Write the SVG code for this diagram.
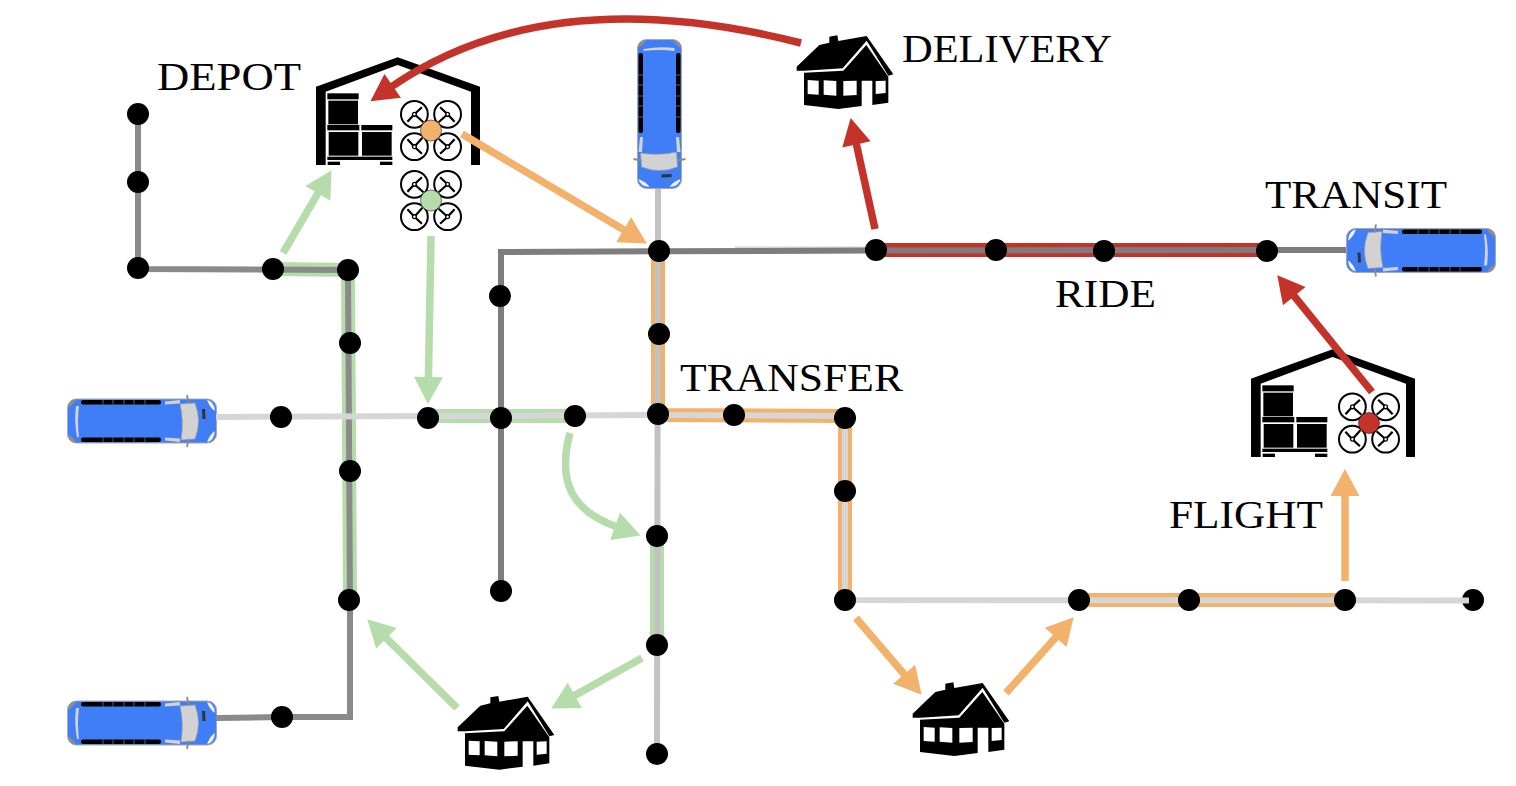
<svg xmlns="http://www.w3.org/2000/svg" xmlns:xlink="http://www.w3.org/1999/xlink" width="1516" height="786" viewBox="0 0 1516 786">
<style>
.lbl{font-family:"Liberation Serif","Times New Roman",serif;font-size:41px;fill:#000}
.dot{fill:#000}
.ln{fill:none;stroke-linejoin:miter}
.dk{stroke:#8a8a8a;stroke-width:6}
.dk2{stroke:#7d7d7d;stroke-width:6}
.lt{stroke:#d6d6d6;stroke-width:6}
.md{stroke:#c2c2c2;stroke-width:6}
.g{stroke:#b6dcab;stroke-width:14}
.o{stroke:#f2b26c;stroke-width:14}
.r{stroke:#c4332a;stroke-width:14}
.ag{fill:none;stroke:#b6dcab;stroke-width:7.5;marker-end:url(#hg)}
.ao{fill:none;stroke:#f2b26c;stroke-width:7.5;marker-end:url(#ho)}
.ar{fill:none;stroke:#c4332a;stroke-width:7.5;marker-end:url(#hr)}
.rt{fill:#fff;stroke:#000;stroke-width:2}
.bl{stroke:#000;stroke-width:2.2;fill:none}
.wn{fill:#000}
.sep{stroke:#777;stroke-width:.8}
.lg{fill:#d2d2d2}
</style>
<defs>
<marker id="hg" markerUnits="userSpaceOnUse" markerWidth="32" markerHeight="32" refX="2" refY="0" orient="auto" overflow="visible" viewBox="0 -16 32 32"><polygon points="0,-14.5 27,0 0,14.5" fill="#b6dcab"/></marker>
<marker id="ho" markerUnits="userSpaceOnUse" markerWidth="32" markerHeight="32" refX="2" refY="0" orient="auto" overflow="visible" viewBox="0 -16 32 32"><polygon points="0,-14.5 27,0 0,14.5" fill="#f2b26c"/></marker>
<marker id="hr" markerUnits="userSpaceOnUse" markerWidth="32" markerHeight="32" refX="2" refY="0" orient="auto" overflow="visible" viewBox="0 -16 32 32"><polygon points="0,-14.5 27,0 0,14.5" fill="#c4332a"/></marker>
<g id="van">
<rect x="-74.5" y="-22" width="149" height="44" rx="9" fill="#3f7ef6" stroke="#a8a8a8" stroke-width="1"/>
<path d="M-74,-13 Q-74,-21 -66,-22 L-68,-18 Z M-74,13 Q-74,21 -66,22 L-68,18 Z" fill="#8d8d8d"/>
<path d="M-66,-15 Q-68,0 -65,16 L-63,16 Q-65,0 -63,-15 Z" class="lg"/>
<rect x="-61" y="-21" width="80" height="4.5" rx="2" class="wn"/>
<rect x="-61" y="16.5" width="80" height="4.5" rx="2" class="wn"/>
<path class="sep" d="M-39,-21V-16.5M-29,-21V-16.5M-18,-21V-16.5M-8,-21V-16.5M3,-21V-16.5M-39,16.5V21M-29,16.5V21M-18,16.5V21M-8,16.5V21M3,16.5V21"/>
<path d="M38,-17 L53,-18 Q60,0 53,18 L39,19 Q42,0 38,-17 Z" fill="#d2d2d2" stroke="#9c9c9c" stroke-width=".7"/>
<path d="M23,-19.5 L38,-21 L38,-17.5 L23,-16.5 Z M23,19.5 L38,21 L38,17.5 L23,16.5 Z" class="lg"/>
<path d="M45,-26 L46.5,-18 M45,26 L46.5,18" stroke="#8a8a8a" stroke-width="1.8" fill="none"/>
<path d="M60,-12 L63,-12 L63.5,-2 L60.5,-2 Z" fill="#333"/>
<path d="M65,-21 Q72,-20 73,-10 Q68,-13 65,-21 Z M65,21 Q72,20 73,10 Q68,13 65,21 Z" fill="#f0f0f0"/>
</g>
<g id="house" transform="scale(.33333)">
<path d="M530,110 L598,45 L628,38 L628,20 L652,16 L655,33 L740,18 L820,133 L805,137 L740,32 L668,115 L553,122 L530,122 Z" fill="#000"/>
<path d="M552,128 L670,122 L739,45 L805,140 L805,218 L757,225 L757,152 L725,152 L725,228 L655,237 L552,225 Z" fill="#000"/>
<path d="M563,150 L596,152 L596,194 L563,192 Z M611,151 L649,153 L649,197 L611,194 Z M670,153 L710,152 L710,195 L670,197 Z M767,153 L797,152 L797,189 L767,192 Z" fill="#fff"/>
</g>
<g id="depot" transform="scale(.33333)">
<path d="M48,375 L48,140 L293,52 L540,140 L540,375 L513,375 L513,155 L293,75 L77,155 L77,375 Z" fill="#000"/>
<rect x="82" y="160" width="94" height="18" fill="#000"/>
<rect x="85" y="182" width="89" height="71" fill="#000"/>
<rect x="82" y="255" width="96" height="16" fill="#000"/>
<rect x="184" y="255" width="93" height="16" fill="#000"/>
<rect x="86" y="276" width="89" height="71" fill="#000"/>
<rect x="186" y="276" width="89" height="71" fill="#000"/>
<rect x="82" y="350" width="195" height="10" fill="#000"/>
<rect x="83" y="365" width="37" height="10" fill="#000"/>
<rect x="240" y="365" width="37" height="10" fill="#000"/>
</g>
<g id="rotor">
<circle r="13.4" class="rt"/>
<path class="bl" d="M0,0 L7.5,-7 M0,0 L-7,7.5 M0,0 L9,8"/>
<circle r="1.9" fill="#fff" stroke="#000" stroke-width="1.4"/>
</g>
<g id="drone">
<use xlink:href="#rotor" href="#rotor" transform="translate(-16.6,-16.2)"/>
<use xlink:href="#rotor" href="#rotor" transform="translate(16.6,-16.2) scale(-1,1)"/>
<use xlink:href="#rotor" href="#rotor" transform="translate(-16.6,16.2) rotate(-90)"/>
<use xlink:href="#rotor" href="#rotor" transform="translate(16.6,16.2) rotate(180)"/>
</g>
</defs>
<rect width="1516" height="786" fill="#fff"/>

<g id="van-top"><use href="#van" transform="translate(659.5,114) rotate(90)"/></g>
<g id="van-left"><use href="#van" transform="translate(142,421)"/></g>
<g id="van-bottom"><use href="#van" transform="translate(142,723)"/></g>
<g id="van-right"><use href="#van" transform="translate(1421,250.5) rotate(180)"/></g>

<g id="depot-a"><use href="#depot" transform="translate(300,40)"/></g>
<g id="depot-b"><use href="#depot" transform="translate(1235,332)"/></g>
<g id="drone-orange"><use href="#drone" transform="translate(431,130.5)"/><circle cx="431" cy="130.5" r="10.5" fill="#f2b26c" stroke="#000" stroke-width=".5"/></g>
<g id="drone-green"><use href="#drone" transform="translate(431,200.5)"/><circle cx="431" cy="200.5" r="10.5" fill="#b6dcab" stroke="#000" stroke-width=".5"/></g>
<g id="drone-red"><use href="#drone" transform="translate(1369,423)"/><circle cx="1369" cy="423" r="10.5" fill="#c4332a" stroke="#000" stroke-width=".5"/></g>
<g id="house-delivery"><use href="#house" transform="translate(620,30)"/></g>
<g id="house-green"><use href="#house" transform="translate(281,690.7)"/></g>
<g id="house-orange"><use href="#house" transform="translate(736,677)"/></g>

<g id="node-end"><circle class="dot" cx="1473" cy="600" r="11"/></g>

<g id="connectors">
<path class="ln g" d="M273,269 L348,270 L350,600"/>
<path class="ln g" d="M428,416 L575,416"/>
<path class="ln g" d="M657,536 L657,645"/>
<path class="ln o" d="M658,251 L658,415 L845,416 L845,600"/>
<path class="ln o" d="M1078,600 L1345,600"/>
<path class="ln r" d="M876,250 L1267,250"/>
<path class="ln dk" d="M138,114 L138,269 L348,270 L350,600"/>
<path class="ln dk" d="M350,600 L350,717 L282,717 L216,718"/>
<path class="ln lt" d="M735,249.5 L876,249.5"/>
<path class="ln dk2" d="M501,591 L501,252 L658,251.3 L876,250.5 L1346,250"/>
<path class="ln md" d="M658,189 L657,754"/>
<path class="ln lt" d="M216,417 L658,415 L845,416 L845,600 L1469,600.5"/>
<path class="ag" d="M283,253 L318.9,191.7"/>
<path class="ag" d="M431,236 L428.4,379"/>
<path class="ag" d="M570,433 C556,485 575,512 617,527"/>
<path class="ag" d="M642,658 L573,696.4"/>
<path class="ag" d="M457,708 L385,636.9"/>
<path class="ao" d="M462,134 L625.4,230.8"/>
<path class="ao" d="M856,618 L905.4,675.8"/>
<path class="ao" d="M1006,693 L1057,635.9"/>
<path class="ao" d="M1345,581 L1345,494"/>
<path class="ar" d="M801,43 C640,2 500,12 391,87"/>
<path class="ar" d="M875,229 L856,142.5"/>
<path class="ar" d="M1372,392 L1293,294.6"/>
</g>

<g id="nodes">
<circle id="n1" class="dot" cx="138" cy="114" r="11"/>
<circle id="n2" class="dot" cx="138" cy="182" r="11"/>
<circle id="n3" class="dot" cx="138" cy="268" r="11"/>
<circle id="n4" class="dot" cx="273" cy="269" r="11"/>
<circle id="n5" class="dot" cx="348" cy="270" r="11"/>
<circle id="n6" class="dot" cx="350" cy="343" r="11"/>
<circle id="n7" class="dot" cx="350" cy="471" r="11"/>
<circle id="n8" class="dot" cx="349" cy="600" r="11"/>
<circle id="n9" class="dot" cx="282" cy="717" r="11"/>
<circle id="n10" class="dot" cx="281" cy="417" r="11"/>
<circle id="n11" class="dot" cx="428" cy="418" r="11"/>
<circle id="n12" class="dot" cx="501" cy="418" r="11"/>
<circle id="n13" class="dot" cx="500" cy="296" r="11"/>
<circle id="n14" class="dot" cx="501" cy="591" r="11"/>
<circle id="n15" class="dot" cx="575" cy="416" r="11"/>
<circle id="n16" class="dot" cx="658" cy="414" r="11"/>
<circle id="n17" class="dot" cx="659" cy="251" r="11"/>
<circle id="n18" class="dot" cx="659" cy="334" r="11"/>
<circle id="n19" class="dot" cx="657" cy="536" r="11"/>
<circle id="n20" class="dot" cx="657" cy="645" r="11"/>
<circle id="n21" class="dot" cx="657" cy="754" r="11"/>
<circle id="n22" class="dot" cx="734" cy="415" r="11"/>
<circle id="n23" class="dot" cx="845" cy="418" r="11"/>
<circle id="n24" class="dot" cx="845" cy="491" r="11"/>
<circle id="n25" class="dot" cx="845" cy="600" r="11"/>
<circle id="n26" class="dot" cx="1079" cy="600" r="11"/>
<circle id="n27" class="dot" cx="1189" cy="600" r="11"/>
<circle id="n28" class="dot" cx="1345" cy="600" r="11"/>
<circle id="n29" class="dot" cx="876" cy="250" r="11"/>
<circle id="n30" class="dot" cx="996" cy="250" r="11"/>
<circle id="n31" class="dot" cx="1104" cy="251" r="11"/>
<circle id="n32" class="dot" cx="1267" cy="251" r="11"/>
</g>

<g id="labels">
<text class="lbl" x="157" y="90" textLength="144" lengthAdjust="spacingAndGlyphs">DEPOT</text>
<text class="lbl" x="902" y="62" textLength="210" lengthAdjust="spacingAndGlyphs">DELIVERY</text>
<text class="lbl" x="1265" y="208" textLength="182" lengthAdjust="spacingAndGlyphs">TRANSIT</text>
<text class="lbl" x="1055" y="307" textLength="101" lengthAdjust="spacingAndGlyphs">RIDE</text>
<text class="lbl" x="680" y="391" textLength="223" lengthAdjust="spacingAndGlyphs">TRANSFER</text>
<text class="lbl" x="1169" y="528" textLength="154" lengthAdjust="spacingAndGlyphs">FLIGHT</text>
</g>
</svg>
